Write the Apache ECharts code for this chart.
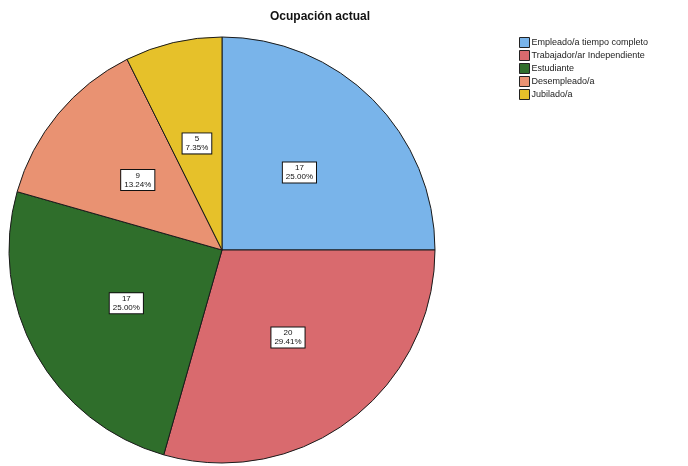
<!DOCTYPE html>
<html>
<head>
<meta charset="utf-8">
<script src="https://cdn.jsdelivr.net/npm/echarts@6/dist/echarts.min.js"></script>
<style>
	html, body { margin: 0; padding: 0; background: #fff; }
	#chart { width: 688px; height: 466px; }
</style>
</head>
<body>
<div id="chart"></div>
<script>
// Ocupacion actual
var categorias = ['Empleado/a tiempo completo', 'Trabajador/ar Independiente', 'Estudiante', 'Desempleado/a', 'Jubilado/a'];
var valores = [17, 20, 17, 9, 5];
var colores = ['#79b4ea', '#d96a6e', '#2f6e2b', '#e99272', '#e6c12a'];

var chart = echarts.init(document.getElementById('chart'));

var datos = [];
for (var i = 0; i < categorias.length; i++) {
	datos.push({ name: categorias[i], value: valores[i] });
}

chart.setOption({
	animation: false,
	color: colores,
	textStyle: {
		fontFamily: 'Arial, Liberation Sans, sans-serif'
	},
	title: {
		text: 'Ocupación actual',
		left: 315,
		top: 6,
		textAlign: 'center',
		textStyle: {
			fontSize: 12,
			fontWeight: 'bold',
			color: '#111'
		}
	},
	legend: {
		orient: 'vertical',
		left: 514,
		top: 32,
		itemWidth: 10,
		itemHeight: 10,
		itemGap: 2,
		icon: 'rect',
		itemStyle: {
			borderColor: '#222',
			borderWidth: 1
		},
		textStyle: {
			fontSize: 9,
			color: '#222',
			padding: [0, 0, 0, -3]
		},
		data: categorias
	},
	series: [{
		name: 'Ocupación actual',
		type: 'pie',
		center: [222, 250],
		radius: 213,
		startAngle: 90,
		clockwise: true,
		itemStyle: {
			borderColor: '#1a1a1a',
			borderWidth: 1
		},
		label: {
			show: true,
			position: 'inside',
			formatter: function (p) {
				return p.value + '\n' + p.percent.toFixed(2) + '%';
			},
			fontSize: 8,
			lineHeight: 9,
			color: '#111',
			backgroundColor: '#fff',
			borderColor: '#111',
			borderWidth: 1,
			padding: [1, 3]
		},
		labelLine: { show: false },
		emphasis: { disabled: true },
		data: datos
	}]
});
</script>
</body>
</html>
